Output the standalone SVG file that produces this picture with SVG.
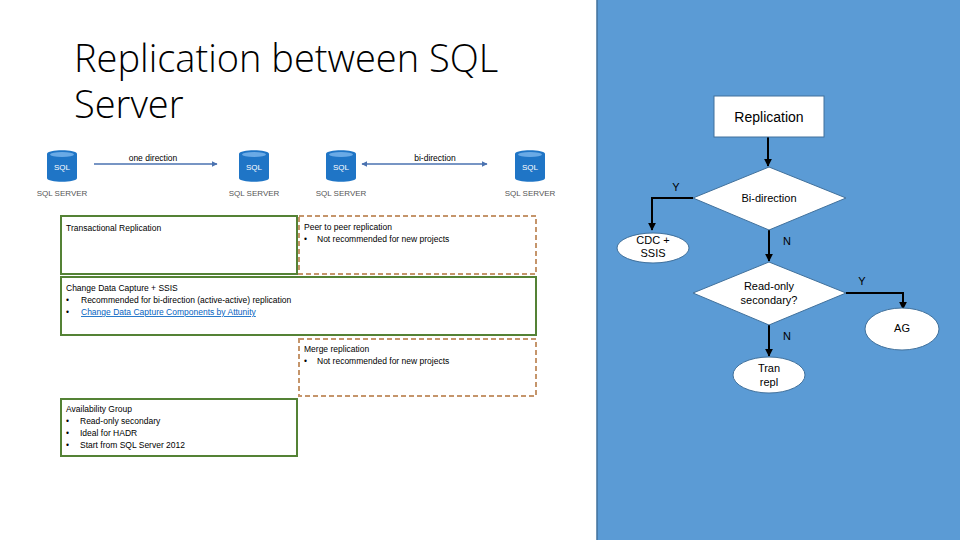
<svg xmlns="http://www.w3.org/2000/svg" width="960" height="540" viewBox="0 0 960 540">
<style>
text{font-family:"Liberation Sans",Arial,sans-serif;fill:#000}
.s{font-size:8.5px}
.g{fill:none;stroke:#548235;stroke-width:2}
.d{fill:none;stroke:#c5956b;stroke-width:2;stroke-dasharray:5,3}
.lbl{font-size:8px;fill:#555}
.ic{fill:#1f75c6}
.ict{font-size:8px;fill:#fff}
.fl{stroke:#000;stroke-width:2;fill:none}
.sh{fill:#fff;stroke:#41719c;stroke-width:1}
.ft{font-size:11px;text-anchor:middle}
</style>
<defs>
<marker id="ba" viewBox="0 0 10 10" refX="9" refY="5" markerWidth="4" markerHeight="4" orient="auto-start-reverse"><path d="M0,0L10,5L0,10z" fill="#4a72b0"/></marker>
<marker id="ka" viewBox="0 0 10 10" refX="9" refY="5" markerWidth="4" markerHeight="4" orient="auto"><path d="M0,0L10,5L0,10z" fill="#000"/></marker>
<symbol id="db" viewBox="0 0 30 32"><path class="ic" d="M0,4C0,-1 30,-1 30,4V28C30,33 0,33 0,28Z"/><ellipse cx="15" cy="4.5" rx="12" ry="2.5" fill="#6aaae6"/></symbol>
</defs>
<rect x="0" y="0" width="960" height="540" fill="#fff"/>
<text x="74" y="72" font-size="38" style="font-family:'Open Sans','Liberation Sans',sans-serif;font-weight:300">Replication between SQL</text>
<text x="74" y="118" font-size="38" style="font-family:'Open Sans','Liberation Sans',sans-serif;font-weight:300">Server</text>
<g id="sql1"><use href="#db" x="47" y="150" width="30" height="32"/><text class="ict" x="62" y="170" text-anchor="middle">SQL</text><text class="lbl" x="62" y="196" text-anchor="middle">SQL SERVER</text></g>
<g id="sql2"><use href="#db" x="239" y="150" width="30" height="32"/><text class="ict" x="254" y="170" text-anchor="middle">SQL</text><text class="lbl" x="254" y="196" text-anchor="middle">SQL SERVER</text></g>
<g id="sql3"><use href="#db" x="326" y="150" width="30" height="32"/><text class="ict" x="341" y="170" text-anchor="middle">SQL</text><text class="lbl" x="341" y="196" text-anchor="middle">SQL SERVER</text></g>
<g id="sql4"><use href="#db" x="515" y="150" width="30" height="32"/><text class="ict" x="530" y="170" text-anchor="middle">SQL</text><text class="lbl" x="530" y="196" text-anchor="middle">SQL SERVER</text></g>
<g id="connectors-top">
<line x1="94" y1="164" x2="217" y2="164" stroke="#4a72b0" stroke-width="1.5" marker-end="url(#ba)"/>
<line x1="362" y1="164" x2="487" y2="164" stroke="#4a72b0" stroke-width="1.5" marker-start="url(#ba)" marker-end="url(#ba)"/>
<text class="s" x="153" y="161" text-anchor="middle">one direction</text>
<text class="s" x="435" y="161" text-anchor="middle">bi-direction</text>
</g>
<g id="trans"><rect class="g" x="61" y="216" width="236" height="58"/><text class="s" x="66" y="231">Transactional Replication</text></g>
<g id="peer"><rect class="d" x="299" y="216" width="237" height="58"/><text class="s" x="304" y="230">Peer to peer replication</text><text class="s" x="304" y="242">•</text><text class="s" x="317" y="242">Not recommended for new projects</text></g>
<g id="cdc"><rect class="g" x="61" y="277" width="475" height="58"/><text class="s" x="66" y="291">Change Data Capture + SSIS</text><text class="s" x="66" y="303">•</text><text class="s" x="81" y="303">Recommended for bi-direction (active-active) replication</text><text class="s" x="66" y="315">•</text><text class="s" x="81" y="315" fill="#0563c1" style="fill:#0563c1" text-decoration="underline">Change Data Capture Components by Attunity</text></g>
<g id="merge"><rect class="d" x="299" y="339" width="237" height="57"/><text class="s" x="304" y="352">Merge replication</text><text class="s" x="304" y="364">•</text><text class="s" x="317" y="364">Not recommended for new projects</text></g>
<g id="ag"><rect class="g" x="61" y="399" width="236" height="57"/><text class="s" x="66" y="412">Availability Group</text><text class="s" x="66" y="424">•</text><text class="s" x="80" y="424">Read-only secondary</text><text class="s" x="66" y="436">•</text><text class="s" x="80" y="436">Ideal for HADR</text><text class="s" x="66" y="448">•</text><text class="s" x="80" y="448">Start from SQL Server 2012</text></g>
<rect x="597" y="-1" width="364" height="542" fill="#5b9bd5" stroke="#41719c" stroke-width="1.5"/>
<g id="flow-connectors">
<line class="fl" x1="768" y1="137" x2="768" y2="166" marker-end="url(#ka)"/>
<polyline class="fl" points="693,198 652,198 652,230" marker-end="url(#ka)"/>
<line class="fl" x1="769" y1="230" x2="769" y2="261" marker-end="url(#ka)"/>
<polyline class="fl" points="846,293 903,293 903,309" marker-end="url(#ka)"/>
<line class="fl" x1="769" y1="325" x2="769" y2="356" marker-end="url(#ka)"/>
<text class="ft" x="676" y="191">Y</text>
<text class="ft" x="787" y="245">N</text>
<text class="ft" x="862" y="285">Y</text>
<text class="ft" x="787" y="340">N</text>
</g>
<g id="replication"><rect x="714" y="96" width="110" height="41" fill="#fff" stroke="#41719c"/><text x="769" y="122" font-size="14" text-anchor="middle">Replication</text></g>
<g id="bidir"><polygon class="sh" points="769,167 846,198 769,230 693,198"/><text class="ft" x="769" y="202" font-size="10">Bi-direction</text></g>
<g id="cdcssis"><ellipse class="sh" cx="653" cy="248" rx="36" ry="15"/><text class="ft" x="653" y="244" font-size="10">CDC +</text><text class="ft" x="653" y="257" font-size="10">SSIS</text></g>
<g id="readonly"><polygon class="sh" points="769,262 846,293 769,325 693,293"/><text class="ft" x="769" y="290" font-size="10">Read-only</text><text class="ft" x="769" y="304" font-size="10">secondary?</text></g>
<g id="agnode"><ellipse class="sh" cx="902" cy="329" rx="37" ry="21"/><text class="ft" x="902" y="332" font-size="10">AG</text></g>
<g id="tran"><ellipse class="sh" cx="769" cy="375" rx="36" ry="18"/><text class="ft" x="769" y="372" font-size="10">Tran</text><text class="ft" x="769" y="386" font-size="10">repl</text></g>
</svg>
